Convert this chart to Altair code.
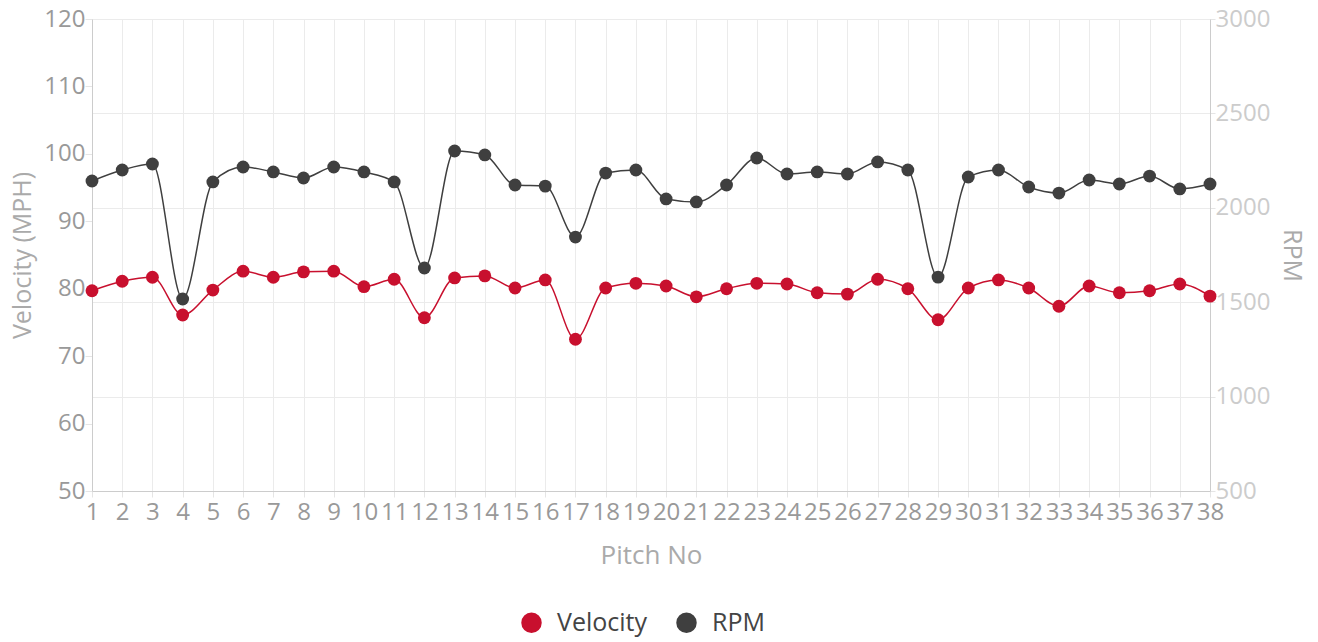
import altair as alt
import pandas as pd

pitch = list(range(1, 39))
velocity = [79.7, 81.1, 81.7, 76.1, 79.8, 82.6, 81.7, 82.5, 82.6, 80.3,
            81.4, 75.7, 81.6, 81.9, 80.1, 81.3, 72.5, 80.1, 80.8, 80.4,
            78.8, 80.0, 80.8, 80.7, 79.4, 79.2, 81.4, 80.0, 75.4, 80.1,
            81.3, 80.1, 77.4, 80.4, 79.4, 79.7, 80.7, 78.9]
rpm = [2142, 2200, 2232, 1517, 2137, 2216, 2190, 2158, 2216, 2190,
       2137, 1681, 2301, 2280, 2121, 2115, 1845, 2184, 2200, 2047,
       2031, 2121, 2264, 2179, 2190, 2179, 2243, 2200, 1633, 2163,
       2200, 2110, 2078, 2147, 2126, 2168, 2100, 2126]
series_names = ["Velocity", "RPM"]
series_colors = ["#C8102E", "#3F3F3F"]
vel_ticks = [50, 60, 70, 80, 90, 100, 110, 120]
rpm_ticks = [500, 1000, 1500, 2000, 2500, 3000]

FONT = "Open Sans"

vel_df = pd.DataFrame({"pitch": pitch, "value": velocity, "series": "Velocity"})
rpm_df = pd.DataFrame({"pitch": pitch, "value": rpm, "series": "RPM"})

x_enc = alt.X("pitch:Q",
              scale=alt.Scale(domain=[1, 38], nice=False, zero=False),
              axis=alt.Axis(values=pitch, title="Pitch No", labelFontSize=24,
                            labelColor="#999999", titleFontSize=26,
                            titleColor="#AAAAAA", titleFontWeight="normal",
                            titlePadding=18, labelPadding=3, tickSize=6,
                            tickColor="#E5E5E5",
                            domainColor="#CCCCCC", gridColor="#EBEBEB",
                            labelFlush=False, labelOverlap=False,
                            labelFont=FONT, titleFont=FONT))

color_enc = alt.Color("series:N",
                      scale=alt.Scale(domain=series_names, range=series_colors),
                      legend=alt.Legend(title=None, orient="none", direction="horizontal",
                                        legendX=427, legendY=591,
                                        symbolType="circle", symbolSize=420,
                                        symbolStrokeWidth=0,
                                        labelFontSize=25, labelColor="#444444",
                                        labelFont=FONT, columnPadding=26,
                                        labelOffset=13, padding=0))

vel_y = alt.Y("value:Q",
              scale=alt.Scale(domain=[50, 120], nice=False, zero=False),
              axis=alt.Axis(orient="left", title="Velocity (MPH)", values=vel_ticks,
                            labelFontSize=24, labelColor="#999999",
                            titleFontSize=25, titleColor="#AAAAAA",
                            titleFontWeight="normal", titlePadding=8,
                            tickSize=7, tickColor="#E5E5E5", labelPadding=0,
                            domainColor="#CCCCCC", gridColor="#EBEBEB",
                            labelFont=FONT, titleFont=FONT))

rpm_y = alt.Y("value:Q",
              scale=alt.Scale(domain=[500, 3000], nice=False, zero=False),
              axis=alt.Axis(orient="right", title="RPM", values=rpm_ticks, format="d",
                            labelFontSize=24, labelColor="#CCCCCC",
                            titleFontSize=25, titleColor="#AAAAAA",
                            titleFontWeight="normal", titlePadding=9,
                            titleAngle=90,
                            tickSize=5, tickColor="#E5E5E5", labelPadding=0,
                            domainColor="#CCCCCC", gridColor="#EBEBEB",
                            labelFont=FONT, titleFont=FONT))

def series_layer(df, y_enc):
    base = alt.Chart(df).encode(x=x_enc, y=y_enc, color=color_enc)
    line = base.mark_line(interpolate="monotone", strokeWidth=1.5)
    pts = base.mark_circle(size=165, opacity=1)
    return alt.layer(line, pts)

rpm_layer = series_layer(rpm_df, rpm_y)
vel_layer = series_layer(vel_df, vel_y)

chart = alt.layer(rpm_layer, vel_layer).resolve_scale(y="independent").properties(
    width=1118, height=472,
    autosize=alt.AutoSizeParams(type="none"),
    padding={"left": 84, "top": 11, "right": 100, "bottom": 150},
).configure_view(stroke=None)

chart.save("out.html", embed_options={"renderer": "svg", "actions": False})
